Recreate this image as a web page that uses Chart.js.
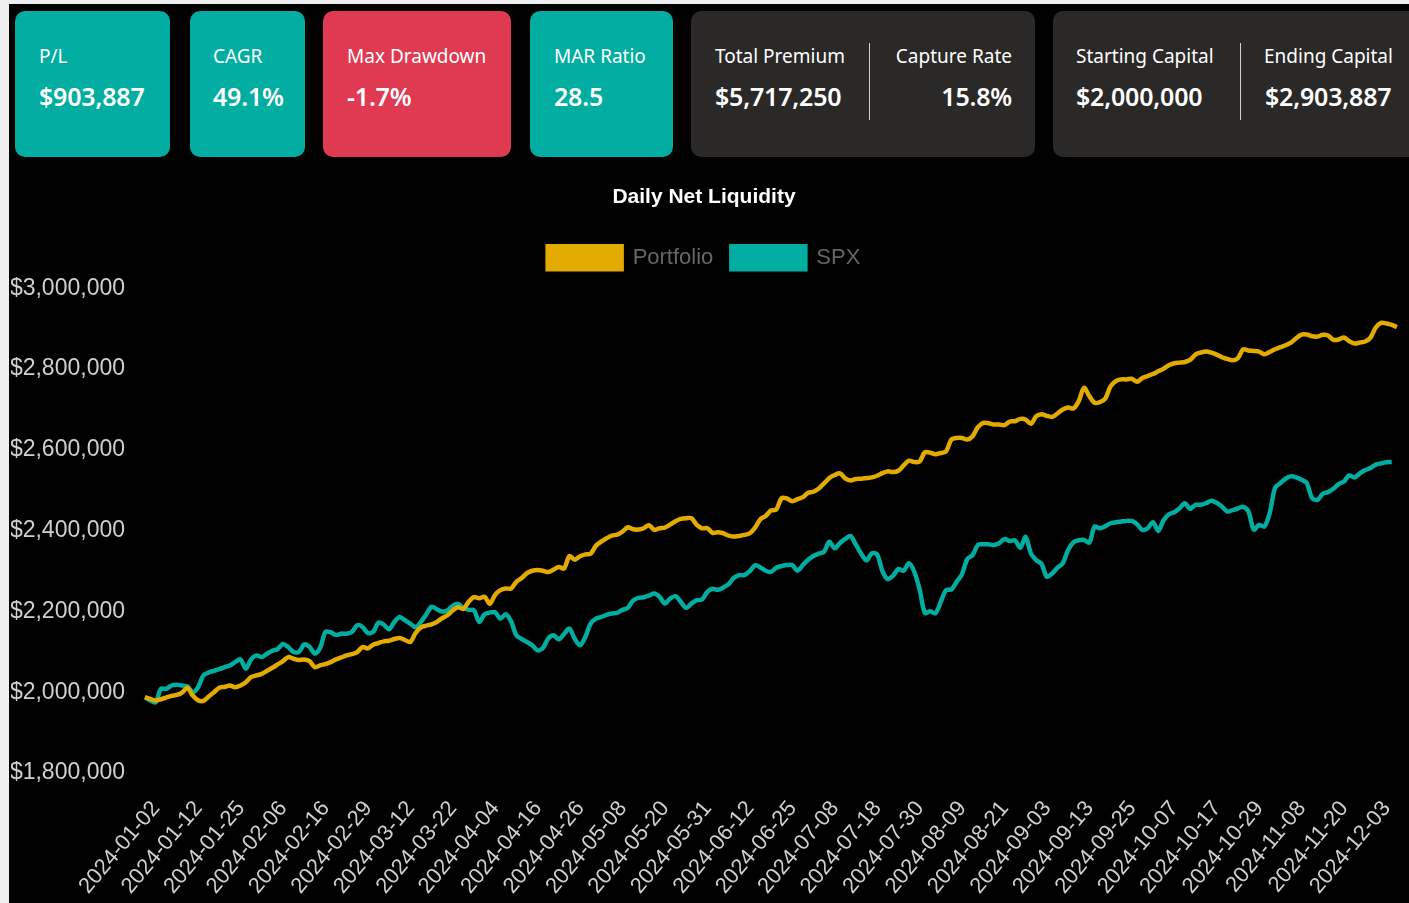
<!DOCTYPE html>
<html><head><meta charset="utf-8">
<script src="https://cdn.jsdelivr.net/npm/chart.js@4.4.1/dist/chart.umd.min.js"></script>
<style>
html,body{margin:0;padding:0;background:#efefef;width:1409px;height:903px;overflow:hidden;}
#page{position:absolute;left:9px;top:4px;width:1400px;height:899px;background:#000;overflow:hidden;}
.card{position:absolute;top:7px;height:146px;border-radius:10px;color:#fff;font-family:"Noto Sans","Open Sans",sans-serif;}
.teal{background:#00ada0;}
.red{background:#e03a52;}
.dark{background:#2b2828;}
.lbl{position:absolute;top:32px;font-size:19px;line-height:26px;white-space:nowrap;}
.val{position:absolute;top:69px;font-size:25px;line-height:32px;font-weight:600;white-space:nowrap;letter-spacing:-0.2px;}
.sep{position:absolute;top:32px;width:1px;height:77px;background:#cfcfcf;}
#chartBox{position:absolute;left:0;top:161px;width:1400px;height:738px;}
</style></head>
<body>
<div id="page">
  <div class="card teal" style="left:6px;width:155px;"><div class="lbl" style="left:24px">P/L</div><div class="val" style="left:24px">$903,887</div></div>
  <div class="card teal" style="left:181px;width:115px;"><div class="lbl" style="left:23px">CAGR</div><div class="val" style="left:23px">49.1%</div></div>
  <div class="card red" style="left:314px;width:188px;"><div class="lbl" style="left:24px">Max Drawdown</div><div class="val" style="left:24px">-1.7%</div></div>
  <div class="card teal" style="left:521px;width:143px;"><div class="lbl" style="left:24px">MAR Ratio</div><div class="val" style="left:24px">28.5</div></div>
  <div class="card dark" style="left:682px;width:344px;">
    <div class="lbl" style="left:24px">Total Premium</div><div class="val" style="left:24px">$5,717,250</div>
    <div class="sep" style="left:178px"></div>
    <div class="lbl" style="right:23px">Capture Rate</div><div class="val" style="right:23px">15.8%</div>
  </div>
  <div class="card dark" style="left:1044px;width:365px;">
    <div class="lbl" style="left:23px">Starting Capital</div><div class="val" style="left:23px">$2,000,000</div>
    <div class="sep" style="left:187px"></div>
    <div class="lbl" style="left:211px">Ending Capital</div><div class="val" style="left:212px">$2,903,887</div>
  </div>
  <div id="chartBox"><canvas id="c"></canvas></div>
</div>
<script>
// Market holidays (NYSE 2024) used to build the trading-day categories
const holidays = ["2024-01-01","2024-01-15","2024-02-19","2024-03-29","2024-05-27","2024-06-19","2024-07-04","2024-09-02","2024-11-28","2024-12-25"];
const firstDate = "2024-01-02";
const lastDate = "2024-12-09";

const portfolio = [
1987600,1983400,1979300,1982600,1986700,1990900,1993400,1999200,2010800,1991700,
1980100,1978500,1989200,2000000,2010800,2013300,2016600,2012400,2016600,2024800,
2037200,2041400,2045500,2053000,2060400,2068700,2077000,2086900,2082800,2079500,
2081200,2077000,2062100,2066200,2069600,2074500,2081200,2086100,2091100,2094400,
2099400,2111800,2108500,2117600,2121700,2125900,2127500,2131700,2134200,2129200,
2124200,2146600,2160700,2164800,2168100,2173900,2183000,2190500,2202100,2210400,
2206200,2223600,2235200,2232700,2236000,2218600,2241000,2252600,2256700,2256700,
2273300,2282400,2294800,2300600,2302300,2300600,2297300,2303100,2309700,2306400,
2337100,2328000,2336300,2341200,2342900,2362700,2372700,2381000,2387600,2390100,
2397500,2408300,2403300,2402500,2405800,2413300,2401700,2405800,2407500,2414900,
2423200,2429000,2430700,2430700,2414100,2405800,2405800,2394200,2395900,2393400,
2387600,2385100,2386800,2389300,2393400,2407500,2428200,2436400,2449700,2452200,
2480300,2479500,2472900,2477800,2482800,2493600,2496100,2504300,2516800,2530000,
2537500,2541600,2529200,2524200,2527500,2528400,2530000,2531700,2535800,2542400,
2546600,2544900,2548200,2561500,2573100,2569800,2570600,2593800,2592900,2588800,
2592100,2596300,2625300,2629400,2629400,2625300,2633500,2655900,2666700,2665800,
2662500,2662500,2660900,2670000,2670800,2676600,2674900,2664200,2683200,2688200,
2684100,2681600,2689900,2699800,2704800,2702300,2720500,2753600,2732900,2716400,
2718000,2726300,2756900,2770200,2774300,2774300,2776000,2768500,2777600,2782600,
2787600,2794200,2800800,2809100,2814100,2815800,2817400,2822400,2835600,2840600,
2843100,2840600,2835600,2829000,2824900,2821500,2826500,2848900,2845600,2844700,
2843100,2836500,2842300,2848900,2853900,2858800,2865400,2876200,2885300,2885300,
2881200,2880300,2884500,2882800,2872100,2872900,2877900,2868800,2863000,2865400,
2867900,2877900,2902700,2914300,2912600,2909300,2903887];

const spx = [
1987600,1979300,1975200,2008300,2008300,2016600,2018200,2016600,2014100,2000000,
2012400,2041400,2048900,2053000,2057100,2062100,2066200,2074500,2081200,2058000,
2081200,2091100,2087000,2095200,2102700,2106800,2119300,2111800,2099400,2099400,
2118400,2112600,2095200,2109300,2149100,2148300,2141600,2144900,2144900,2149100,
2165600,2161500,2146600,2149100,2172300,2167300,2155700,2173900,2186300,2178100,
2169800,2160700,2173900,2192100,2211200,2205400,2199600,2202100,2213700,2218600,
2208700,2203700,2202900,2173900,2193000,2197100,2197900,2182200,2193000,2175600,
2140800,2131700,2124200,2116000,2103500,2109300,2132500,2140800,2130800,2144100,
2157400,2132500,2116000,2136700,2169800,2182200,2186300,2191300,2194600,2196300,
2203700,2208700,2226900,2233500,2235200,2239300,2244300,2236000,2219400,2231900,
2237700,2223600,2208700,2219400,2227700,2229400,2248400,2255900,2253400,2259200,
2267500,2283200,2289900,2289900,2299800,2313900,2308900,2300600,2298100,2308100,
2312200,2314700,2314700,2300600,2314700,2327900,2337000,2342900,2347800,2372700,
2356100,2369400,2379300,2386700,2365200,2342900,2326300,2343700,2341200,2299800,
2279900,2288200,2304700,2300600,2318900,2298100,2255100,2196300,2200400,2195400,
2223600,2252600,2254200,2273300,2292300,2329600,2339500,2364400,2366000,2366000,
2364400,2368500,2379300,2374300,2376000,2357800,2384300,2343700,2327100,2317200,
2285700,2294000,2308100,2318900,2351900,2371000,2376000,2376800,2370200,2409900,
2405800,2410800,2418200,2420700,2422400,2424000,2424000,2415800,2401700,2405800,
2420700,2399200,2425700,2440600,2445600,2455500,2467900,2453800,2463800,2463800,
2467900,2473700,2468700,2459600,2447200,2450500,2454700,2458800,2447200,2402500,
2414100,2409900,2443100,2505200,2517600,2528400,2534200,2531700,2525900,2517600,
2480400,2476200,2491100,2495300,2503500,2515100,2521700,2536600,2531700,2541600,
2549900,2554900,2563200,2566500,2569000,2569800,null];

const yTickValues = [1800000,2000000,2200000,2400000,2600000,2800000,3000000];
const labelEvery = 8;

function buildTradingDays(){
  const out=[]; const d=new Date(firstDate+"T12:00:00Z"); const end=new Date(lastDate+"T12:00:00Z");
  while(d<=end){
    const s=d.toISOString().slice(0,10); const wd=d.getUTCDay();
    if(wd!==0&&wd!==6&&holidays.indexOf(s)<0) out.push(s);
    d.setUTCDate(d.getUTCDate()+1);
  }
  return out;
}
const dates = buildTradingDays();

const legendGap = {
  id:'legendGap',
  beforeInit(chart){
    const lg = chart.legend; const orig = lg.fit;
    lg.fit = function(){ orig.call(lg); lg.height += 9; };
  }
};

Chart.defaults.font.family = "'Liberation Sans', Arial, sans-serif";
new Chart(document.getElementById('c'), {
  type:'line',
  data:{labels:dates, datasets:[
    {label:'Portfolio', data:portfolio, borderColor:'#e3aa00', backgroundColor:'#e3aa00', borderWidth:4.5, pointRadius:0, tension:0.3},
    {label:'SPX', data:spx, borderColor:'#00ada0', backgroundColor:'#00ada0', borderWidth:4.5, pointRadius:0, tension:0.3}
  ]},
  plugins:[legendGap],
  options:{
    responsive:true, maintainAspectRatio:false, animation:false,
    layout:{padding:{left:2,right:12,top:0,bottom:1}},
    plugins:{
      title:{display:true, text:'Daily Net Liquidity', color:'#ffffff', font:{size:21, weight:'bold'}, padding:{top:20,bottom:18}},
      legend:{labels:{color:'#666666', font:{size:22}, boxWidth:74, boxHeight:23, padding:18}},
      tooltip:{enabled:false}
    },
    scales:{
      x:{grid:{display:false, drawTicks:false}, border:{display:false},
         afterFit:function(s){ s.height = 129; s.paddingLeft = 0; s.paddingRight = 0; },
         ticks:{color:'#d0d0d0', font:{size:22}, autoSkip:false, maxRotation:50, minRotation:50, padding:23, labelOffset:11,
           callback:function(v,i){ return i%labelEvery===0 ? this.getLabelForValue(v) : null; }}},
      y:{min:1800000, max:3000000, grid:{display:false, drawTicks:false}, border:{display:false},
         afterFit:function(s){ s.width = 134; s.paddingTop = 0; s.paddingBottom = 0; },
         afterBuildTicks:function(ax){ ax.ticks = yTickValues.map(v=>({value:v})); },
         ticks:{color:'#d0d0d0', font:{size:23}, padding:20,
           callback:function(v){ return '$'+Number(v).toLocaleString('en-US'); }}}
    }
  }
});
</script>
</body></html>
